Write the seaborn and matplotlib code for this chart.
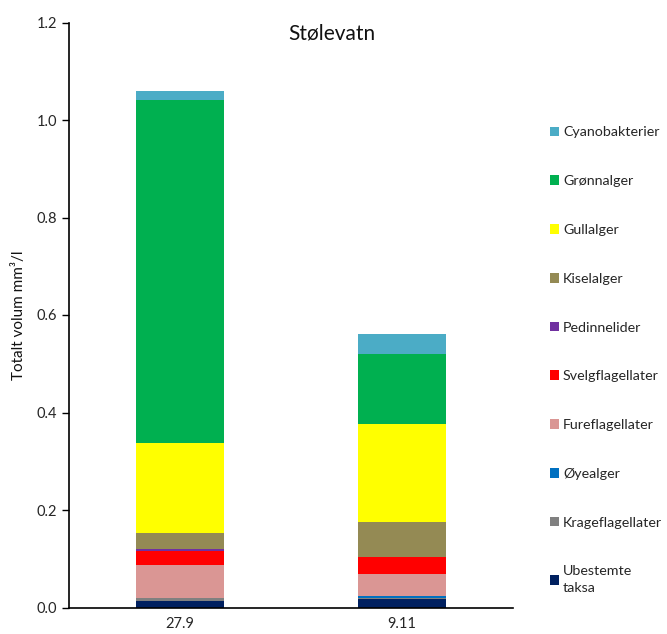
import matplotlib
matplotlib.use("Agg")
import matplotlib.pyplot as plt
from matplotlib.patches import Patch
import numpy as np
import pandas as pd
import seaborn as sns

# Sampling dates
dates = ["27.9", "9.11"]

# Algal groups, from the bottom of each stack to the top
groups = ["Ubestemte taksa", "Krageflagellater", "Øyealger", "Fureflagellater",
          "Svelgflagellater", "Pedinnelider", "Kiselalger", "Gullalger",
          "Grønnalger", "Cyanobakterier"]

# Biovolume (mm³/l) per group for each date
ubestemte = [0.014, 0.018]
krage = [0.005, 0.002]
oyealger = [0.001, 0.003]
fure = [0.067, 0.046]
svelg = [0.029, 0.034]
pedinnelider = [0.005, 0.000]
kisel = [0.031, 0.073]
gull = [0.186, 0.201]
gronn = [0.703, 0.143]
cyano = [0.018, 0.041]

colors = ["#002060", "#808080", "#0070C0", "#DA9694", "#FF0000",
          "#7030A0", "#948A54", "#FFFF00", "#00B050", "#4BACC6"]

series = [ubestemte, krage, oyealger, fure, svelg, pedinnelider,
          kisel, gull, gronn, cyano]

sns.set_style("white")
plt.rcParams["font.family"] = ["Lato", "DejaVu Sans"]

# Cumulative heights so each group can be drawn as an overlapping bar
cum = np.cumsum(np.array(series), axis=0)
rows = []
for g, heights in zip(groups, cum):
    for d, h in zip(dates, heights):
        rows.append({"dato": d, "gruppe": g, "kumulativ": h})
df = pd.DataFrame(rows)

fig = plt.figure(figsize=(6.67, 6.34), dpi=100)
ax = fig.add_axes([69 / 667, 1 - 607.5 / 634, 444 / 667, 585 / 634])

# Draw from the top of the stack downwards so lower groups sit in front
for g, c in reversed(list(zip(groups, colors))):
    sns.barplot(data=df[df["gruppe"] == g], x="dato", y="kumulativ",
                color=c, width=0.4, saturation=1, ax=ax,
                edgecolor="none", linewidth=0, order=dates)

ax.set_ylim(0, 1.2)
ax.set_xlim(-0.5, 1.5)
ax.set_yticks(np.arange(0, 1.21, 0.2))
ax.set_yticklabels([f"{v:.1f}" for v in np.arange(0, 1.21, 0.2)])
ax.tick_params(axis="y", direction="out", length=5, width=1, labelsize=10.5,
               colors="#000000", labelcolor="#262626", left=True)
ax.tick_params(axis="x", length=0, labelsize=10.5, labelcolor="#262626", pad=7)
ax.set_xlabel("")
ax.set_ylabel("Totalt volum mm³/l", fontsize=11, color="#111111", labelpad=8)
for side in ["top", "right"]:
    ax.spines[side].set_visible(False)
for side in ["left", "bottom"]:
    ax.spines[side].set_color("#000000")
    ax.spines[side].set_linewidth(1.2)

fig.text(332 / 667, 1 - 33 / 634, "Stølevatn", ha="center", va="center",
         fontsize=15, color="#111111")

labels = ["Cyanobakterier", "Grønnalger", "Gullalger", "Kiselalger",
          "Pedinnelider", "Svelgflagellater", "Fureflagellater", "Øyealger",
          "Krageflagellater", "Ubestemte\ntaksa"]
handles = [Patch(facecolor=c, edgecolor="none") for c in reversed(colors)]
leg = fig.legend(handles, labels, loc="upper left",
                 bbox_to_anchor=(550 / 667, 1 - 126.5 / 634), frameon=False,
                 fontsize=10.3, labelspacing=2.57, handlelength=0.66,
                 handleheight=0.66, handletextpad=0.25, borderaxespad=0,
                 borderpad=0)
for t in leg.get_texts():
    t.set_linespacing(1.5)

fig.savefig("out.png", dpi=100)
